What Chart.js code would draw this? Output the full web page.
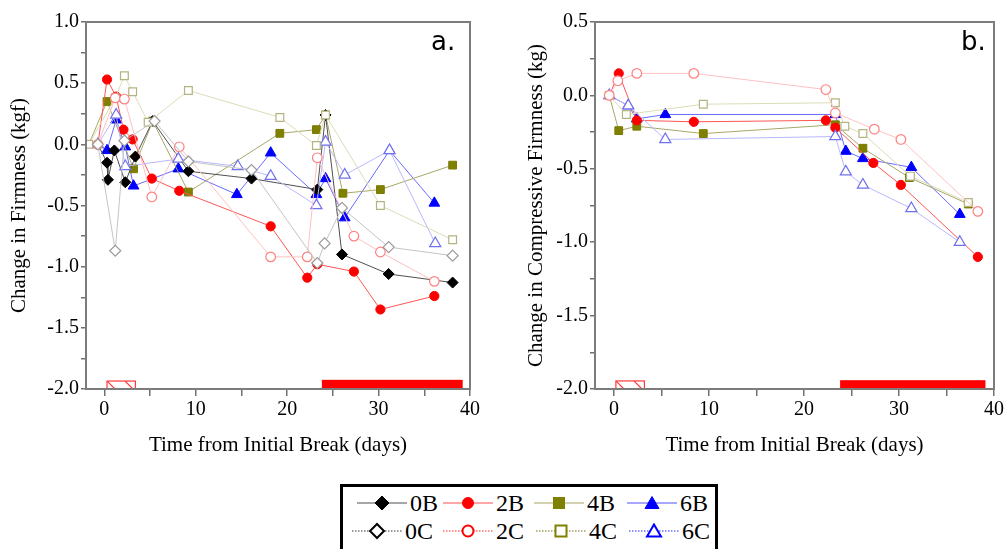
<!DOCTYPE html>
<html>
<head>
<meta charset="utf-8">
<script src="https://cdn.jsdelivr.net/npm/chart.js@4"></script>
<style>
body{margin:0;background:#fff;width:1007px;height:549px;overflow:hidden;position:relative;font-family:'Liberation Serif','Times New Roman',serif}
canvas{position:absolute;top:0}
#ca{left:0}
#cb{left:500px}
.tag{position:absolute;font-family:'DejaVu Sans',sans-serif;font-size:26px;line-height:26px;color:#000}
#legend{position:absolute;left:340px;top:484px;width:378px;height:80px;border:3px solid #000;box-sizing:border-box}
.item{position:absolute;display:flex;align-items:center;font-size:24px;line-height:22px;height:22px}
.item svg{margin-right:3px}
</style>
</head>
<body>
<canvas id="ca" width="500" height="470"></canvas>
<canvas id="cb" width="507" height="470"></canvas>
<div class="tag" style="left:431px;top:28px">a.</div>
<div class="tag" style="left:961px;top:28px">b.</div>
<div id="legend"></div>
<script>
// ---- data: [day, change] ----
// panel a: Change in Firmness (kgf)
var a0B = [[-0.7,0],[0.3,-0.15],[0.4,-0.29],[1.1,-0.05],[2.3,-0.31],[3.4,-0.10],[5.3,0.19],[9.2,-0.22],[16.1,-0.28],[23.3,-0.37],[24.2,0.24],[26.0,-0.90],[31.1,-1.06],[38.1,-1.13]];
var a2B = [[-0.7,0],[0.3,0.53],[1.3,0.39],[2.1,0.12],[3.1,0.04],[5.2,-0.28],[8.2,-0.38],[18.2,-0.67],[22.2,-1.09],[23.3,-0.98],[27.3,-1.04],[30.2,-1.35],[36.1,-1.24]];
var a4B = [[-1.7,0],[0.3,0.35],[3.2,-0.20],[5.3,0.19],[9.2,-0.39],[19.2,0.09],[23.2,0.12],[24.2,0.24],[26.1,-0.40],[30.2,-0.37],[38.1,-0.17]];
var a6B = [[-0.7,0],[0.3,-0.05],[1.3,0.20],[2.3,-0.02],[3.2,-0.34],[8.1,-0.20],[14.5,-0.41],[18.2,-0.07],[23.2,-0.41],[24.2,-0.28],[26.3,-0.60],[31.2,-0.05],[36.1,-0.48]];
var a0C = [[-0.7,0],[1.2,-0.87],[2.2,0.03],[5.5,0.19],[9.2,-0.14],[16.1,-0.21],[23.3,-0.97],[24.1,-0.81],[26.0,-0.52],[31.1,-0.84],[38.1,-0.91]];
var a2C = [[-0.7,0],[1.2,0.38],[2.2,0.37],[5.2,-0.43],[8.2,-0.02],[18.2,-0.92],[22.2,-0.92],[23.3,-0.11],[27.3,-0.75],[30.2,-0.88],[36.1,-1.12]];
var a4C = [[-1.7,0],[1.2,0.38],[2.2,0.56],[3.1,0.43],[4.8,0.18],[9.2,0.44],[19.2,0.22],[23.2,-0.01],[24.2,0.24],[30.2,-0.50],[38.1,-0.78]];
var a6C = [[-0.7,0],[1.3,0.24],[2.3,-0.18],[8.1,-0.12],[14.6,-0.18],[18.2,-0.26],[23.2,-0.50],[24.2,0.02],[26.3,-0.25],[31.2,-0.05],[36.2,-0.81]];

// panel b: Change in Compressive Firmness (kg)
var b2B = [[-0.5,0],[0.5,0.15],[2.4,-0.17],[8.4,-0.18],[22.3,-0.17],[23.3,-0.22],[27.3,-0.46],[30.2,-0.61],[38.3,-1.10]];
var b4B = [[-0.5,0],[0.5,-0.24],[2.4,-0.21],[9.4,-0.26],[23.3,-0.20],[26.2,-0.36],[31.1,-0.56],[37.3,-0.74]];
var b6B = [[-0.5,0],[1.5,-0.07],[2.4,-0.16],[5.4,-0.13],[23.3,-0.13],[24.4,-0.38],[26.2,-0.43],[31.3,-0.49],[36.4,-0.81]];
var b2C = [[-0.5,0],[0.4,0.10],[2.4,0.15],[8.4,0.15],[22.3,0.04],[23.3,-0.12],[27.4,-0.23],[30.2,-0.30],[38.3,-0.79]];
var b4C = [[-0.5,0],[1.3,-0.13],[9.4,-0.06],[23.3,-0.05],[24.3,-0.21],[26.2,-0.26],[31.2,-0.55],[37.3,-0.73]];
var b6C = [[-0.5,0],[1.5,-0.07],[5.4,-0.30],[23.3,-0.28],[24.4,-0.52],[26.2,-0.61],[31.3,-0.77],[36.4,-1.00]];

// bands along the bottom: [from day, to day]
var hatchA = [0.3, 3.4], solidA = [23.8, 39.2];
var hatchB = [0.2, 3.2], solidB = [23.8, 39.1];

// ticks
var xTicks = [0, 5, 10, 15, 20, 25, 30, 35, 40];
var xLabels = [0, 10, 20, 30, 40];
var yTicksA = [-2, -1.75, -1.5, -1.25, -1, -0.75, -0.5, -0.25, 0, 0.25, 0.5, 0.75, 1];
var yTicksB = [-2, -1.75, -1.5, -1.25, -1, -0.75, -0.5, -0.25, 0, 0.25, 0.5];

var names = ['0B', '2B', '4B', '6B', '0C', '2C', '4C', '6C'];

var styles = {
    '0B': {pt: 'rectRot', r: 5.5, edge: '#000', fill: '#000', line: '#505050', dash: [], lg: '#888', lgEdge: '#000'},
    '2B': {pt: 'circle', r: 4.6, edge: '#ff0000', fill: '#ff0000', line: '#ff5555', dash: [], lg: '#ff8a8a', lgEdge: '#ff0000'},
    '4B': {pt: 'rect', r: 5.5, edge: '#7a7a00', fill: '#808000', line: '#a8a86a', dash: [], lg: '#c4c49a', lgEdge: '#808000'},
    '6B': {pt: 'triangle', r: 6.2, edge: '#0000ff', fill: '#0000ff', line: '#6a6aff', dash: [], lg: '#8a8aff', lgEdge: '#0000ff'},
    '0C': {pt: 'rectRot', r: 5.5, edge: '#9a9a9a', fill: '#fff', line: '#c4c4c4', dash: [], lg: '#777', lgEdge: '#000'},
    '2C': {pt: 'circle', r: 4.8, edge: '#ff8080', fill: '#fff', line: '#ffc0c0', dash: [], lg: '#ff7070', lgEdge: '#ff0000'},
    '4C': {pt: 'rect', r: 5.5, edge: '#b4b480', fill: '#fff', line: '#dcdcb8', dash: [], lg: '#a0a060', lgEdge: '#808000'},
    '6C': {pt: 'triangle', r: 6.4, edge: '#7070ee', fill: '#fff', line: '#b8b8ff', dash: [], lg: '#7070ff', lgEdge: '#0000ff'}
};

var serif = "'Liberation Serif', 'Times New Roman', serif";

// frame round the plot + coloured bands at the bottom
var bandPlugin = {
    id: 'bands',
    beforeDatasetsDraw: function (chart, args, opts) {
        var ctx = chart.ctx, xs = chart.scales.x, ys = chart.scales.y;
        var y0 = ys.getPixelForValue(ys.min);
        ctx.save();
        // solid band
        var sx1 = xs.getPixelForValue(opts.solid[0]), sx2 = xs.getPixelForValue(opts.solid[1]);
        var sy = ys.getPixelForValue(opts.solidTop);
        ctx.fillStyle = '#ff0000';
        ctx.fillRect(sx1, sy, sx2 - sx1, y0 - sy);
        // hatched band
        var hx1 = xs.getPixelForValue(opts.hatch[0]), hx2 = xs.getPixelForValue(opts.hatch[1]);
        var hy = ys.getPixelForValue(opts.hatchTop);
        ctx.strokeStyle = '#ff3a3a';
        ctx.lineWidth = 1.2;
        ctx.strokeRect(hx1, hy, hx2 - hx1, y0 - hy);
        ctx.beginPath();
        ctx.rect(hx1, hy, hx2 - hx1, y0 - hy);
        ctx.clip();
        ctx.beginPath();
        var h = y0 - hy;
        for (var x = hx1; x < hx2; x += 18) {
            ctx.moveTo(x, hy);
            ctx.lineTo(x + h, y0);
        }
        ctx.stroke();
        ctx.restore();
    },
    afterDraw: function (chart) {
        var ctx = chart.ctx, a = chart.chartArea;
        ctx.save();
        ctx.strokeStyle = '#7c7c7c';
        ctx.lineWidth = 2;
        ctx.strokeRect(a.left, a.top, a.right - a.left, a.bottom - a.top);
        ctx.restore();
    }
};

function makeChart(id, series, yMin, yMax, yTicks, yTitle, titlePad, rightPad, bands) {
    var datasets = [];
    // C series first so their hollow markers sit on top
    ['0C', '2C', '4C', '6C', '0B', '2B', '4B', '6B'].forEach(function (n) {
        var pts = series[n];
        if (!pts) return;
        var s = styles[n];
        var isB = n.charAt(1) === 'B';
        datasets.push({
            label: n,
            data: pts.map(function (p) { return {x: p[0], y: p[1]}; }),
            borderColor: s.line,
            borderWidth: 1,
            borderDash: s.dash,
            backgroundColor: s.fill,
            pointStyle: s.pt,
            pointBackgroundColor: s.fill,
            pointBorderColor: s.edge,
            pointBorderWidth: isB ? 1 : 1.2,
            pointRadius: function (c) { return c.dataIndex === 0 && isB ? 0 : s.r; },
            tension: 0,
            fill: false
        });
    });

    new Chart(document.getElementById(id), {
        type: 'line',
        data: {datasets: datasets},
        options: {
            animation: false,
            responsive: false,
            devicePixelRatio: 1,
            events: [],
            layout: {padding: {top: 22, right: rightPad, left: 0, bottom: 0}},
            plugins: {legend: {display: false}, tooltip: {enabled: false}, bands: bands},
            scales: {
                x: {
                    type: 'linear', min: -2, max: 40,
                    afterBuildTicks: function (s) { s.ticks = xTicks.map(function (v) { return {value: v}; }); },
                    afterFit: function (s) { s.height = 81; },
                    ticks: {
                        autoSkip: false, maxRotation: 0, padding: 2, color: '#000',
                        font: {family: serif, size: 20},
                        callback: function (v) { return xLabels.indexOf(v) >= 0 ? String(v) : ''; }
                    },
                    grid: {drawOnChartArea: false, drawTicks: true, tickLength: 7, color: '#707070', lineWidth: 1.5},
                    border: {display: false},
                    title: {display: true, text: 'Time from Initial Break (days)', color: '#000',
                        font: {family: serif, size: 21}, padding: {top: 0, bottom: 12}}
                },
                y: {
                    min: yMin, max: yMax,
                    afterBuildTicks: function (s) { s.ticks = yTicks.map(function (v) { return {value: v}; }); },
                    afterFit: function (s) { s.width = id === 'ca' ? 86 : 95; },
                    ticks: {
                        autoSkip: false, padding: 2, color: '#000',
                        font: {family: serif, size: 20},
                        callback: function (v) { return Math.abs(v * 2 - Math.round(v * 2)) < 1e-6 ? v.toFixed(1) : ''; }
                    },
                    grid: {drawOnChartArea: false, drawTicks: true, tickLength: 5, color: '#707070', lineWidth: 1.5},
                    border: {display: false},
                    title: {display: true, text: yTitle, color: '#000',
                        font: {family: serif, size: 21}, padding: {top: titlePad, bottom: 0}}
                }
            }
        },
        plugins: [bandPlugin]
    });
}

makeChart('ca', {'0B': a0B, '2B': a2B, '4B': a4B, '6B': a6B, '0C': a0C, '2C': a2C, '4C': a4C, '6C': a6C},
    -2, 1, yTicksA, 'Change in Firmness (kgf)', 7, 30,
    {hatch: hatchA, solid: solidA, hatchTop: -1.935, solidTop: -1.925});

makeChart('cb', {'2B': b2B, '4B': b4B, '6B': b6B, '2C': b2C, '4C': b4C, '6C': b6C},
    -2, 0.5, yTicksB, 'Change in Compressive Firmness (kg)', 24, 13,
    {hatch: hatchB, solid: solidB, hatchTop: -1.945, solidTop: -1.94});

// legend below both panels
function markerSvg(n) {
    var s = styles[n], hollow = n.charAt(1) === 'C';
    var fill = hollow ? '#fff' : s.lgEdge, edge = s.lgEdge, sw = hollow ? 2 : 1;
    var shape;
    if (s.pt === 'rectRot') shape = '<polygon points="25,3 32,10 25,17 18,10" fill="' + fill + '" stroke="' + edge + '" stroke-width="' + sw + '"/>';
    else if (s.pt === 'circle') shape = '<circle cx="25" cy="10" r="5.5" fill="' + fill + '" stroke="' + edge + '" stroke-width="' + sw + '"/>';
    else if (s.pt === 'rect') shape = '<rect x="19.5" y="4.5" width="11" height="11" fill="' + fill + '" stroke="' + edge + '" stroke-width="' + sw + '"/>';
    else shape = '<polygon points="25,3.5 32,15.5 18,15.5" fill="' + fill + '" stroke="' + edge + '" stroke-width="' + sw + '"/>';
    var dash = hollow ? ' stroke-dasharray="1.5,1.5"' : '';
    return '<svg width="50" height="20"><line x1="0" y1="10" x2="50" y2="10" stroke="' + s.lg + '" stroke-width="1.3"' + dash + '/>' + shape + '</svg>';
}

var legend = document.getElementById('legend');
var colX = [[357, 443, 534, 627], [352, 443, 536, 629]];
var rowY = [503, 531];
names.forEach(function (n, i) {
    var row = i < 4 ? 0 : 1, col = i % 4;
    var d = document.createElement('div');
    d.className = 'item';
    d.style.left = (colX[row][col] - 343) + 'px';
    d.style.top = (rowY[row] - 11 - 487) + 'px';
    d.innerHTML = markerSvg(n) + '<span>' + n + '</span>';
    legend.appendChild(d);
});
</script>
</body>
</html>
